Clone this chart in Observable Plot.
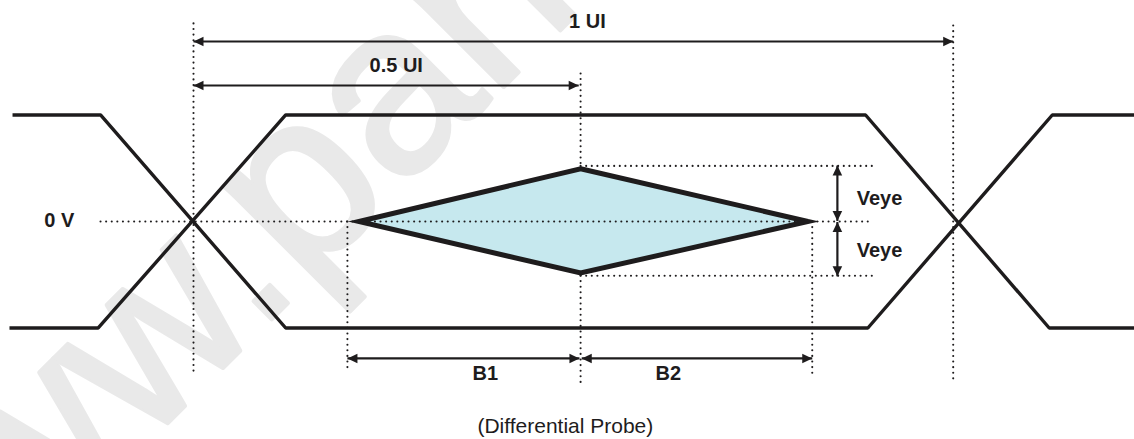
<!DOCTYPE html>
<html>
<head>
<meta charset="utf-8">
<script src="https://cdn.jsdelivr.net/npm/d3@7"></script>
<script src="https://cdn.jsdelivr.net/npm/@observablehq/plot@0.6"></script>
<style>
  html, body { margin: 0; padding: 0; background: #ffffff; overflow: hidden; }
  #chart svg { display: block; }
</style>
</head>
<body>
<div id="chart"></div>
<script>
// ---- data: time in UI (0 = first crossing), level in normalised volts ----
const waveA = [ // starts high, falls at crossing 0, rises at crossing 1
  {u: -0.2375, v: 1}, {u: -0.122, v: 1}, {u: 0.121, v: -1},
  {u: 0.885, v: -1}, {u: 1.127, v: 1}, {u: 1.235, v: 1}
];
const waveB = [ // starts low, rises at crossing 0, falls at crossing 1
  {u: -0.2415, v: -1}, {u: -0.125, v: -1}, {u: 0.121, v: 1},
  {u: 0.882, v: 1}, {u: 1.123, v: -1}, {u: 1.235, v: -1}
];
const eyeU = [0.217, 0.508, 0.8064];        // left tip, centre, right tip
const eyeTop = [0, 0.495, 0];
const eyeBottom = [0, -0.484, 0];
const dottedLines = [
  {u1: 0, v1: 1.86, u2: 0, v2: -1.43},          // crossing 0
  {u1: 0.997, v1: 1.84, u2: 0.997, v2: -1.48},  // crossing 1
  {u1: 0.508, v1: 1.39, u2: 0.508, v2: 0.517},  // 0.5 UI above eye
  {u1: 0.508, v1: -0.507, u2: 0.508, v2: -1.52},// 0.5 UI below eye
  {u1: 0.202, v1: 0, u2: 0.202, v2: -1.37},     // B1 left
  {u1: 0.812, v1: 0, u2: 0.812, v2: -1.42},     // B2 right
  {u1: -0.122, v1: 0, u2: 0.892, v2: 0},        // 0 V
  {u1: 0.508, v1: 0.522, u2: 0.892, v2: 0.522}, // +Veye
  {u1: 0.508, v1: -0.51, u2: 0.892, v2: -0.51}  // -Veye
];
const hArrows = [ // horizontal double arrows
  {u1: 0, u2: 0.997, v: 1.69},     // 1 UI
  {u1: 0, u2: 0.5055, v: 1.277},   // 0.5 UI
  {u1: 0.202, u2: 0.5065, v: -1.286}, // B1
  {u1: 0.5095, u2: 0.812, v: -1.286}  // B2
];
const vArrows = [ // vertical double arrows
  {u: 0.845, v1: 0.525, v2: 0.005},
  {u: 0.845, v1: -0.005, v2: -0.515}
];
const labels = [
  {text: "1 UI", u: 0.517, v: 1.878},
  {text: "0.5 UI", u: 0.266, v: 1.46},
  {text: "0 V", u: -0.176, v: 0.01},
  {text: "Veye", u: 0.9003, v: 0.216},
  {text: "Veye", u: 0.9003, v: -0.272},
  {text: "B1", u: 0.383, v: -1.427},
  {text: "B2", u: 0.623, v: -1.427}
];
const caption = [{text: "(Differential Probe)", u: 0.488, v: -1.925}];
const watermark = [{text: "www.panelook.com", u: -0.388, v: -4.428}];

// ---- derived tables ----
const eye = eyeU.map((u, i) => ({u, top: eyeTop[i], bottom: eyeBottom[i]}));
const eyeOutline = [
  {u: eyeU[1], v: eyeTop[1]}, {u: eyeU[2], v: eyeTop[2]},
  {u: eyeU[1], v: eyeBottom[1]}, {u: eyeU[0], v: eyeBottom[0]},
  {u: eyeU[1], v: eyeTop[1]}, {u: eyeU[2], v: eyeTop[2]}
];
const headsLeft = hArrows.map(d => ({u: d.u1, v: d.v}));
const headsRight = hArrows.map(d => ({u: d.u2, v: d.v}));
const headsUp = vArrows.map(d => ({u: d.u, v: d.v1}));
const headsDown = vArrows.map(d => ({u: d.u, v: d.v2}));

// arrowhead symbols, tip at the origin
const L = 10, H = 4.8;
const triLeft = {draw(c) { c.moveTo(0, 0); c.lineTo(L, -H); c.lineTo(L, H); c.closePath(); }};
const triRight = {draw(c) { c.moveTo(0, 0); c.lineTo(-L, -H); c.lineTo(-L, H); c.closePath(); }};
const triUp = {draw(c) { c.moveTo(0, 0); c.lineTo(-H, L); c.lineTo(H, L); c.closePath(); }};
const triDown = {draw(c) { c.moveTo(0, 0); c.lineTo(-H, -L); c.lineTo(H, -L); c.closePath(); }};

const ink = "#1e1c1d";
const font = "'Liberation Sans', Arial, Helvetica, sans-serif";
const dotted = {stroke: ink, strokeWidth: 2.1, strokeDasharray: "0,5.6", strokeLinecap: "round"};

const chart = Plot.plot({
  width: 1134,
  height: 439,
  margin: 0,
  x: {domain: [-193 / 762, (1134 - 193) / 762], range: [0, 1134], axis: null},
  y: {domain: [-2.047, 2.075], range: [439, 0], axis: null},
  style: {background: "#ffffff", fontFamily: font},
  marks: [
    Plot.text(watermark, {x: "u", y: "v", text: "text", rotate: -45, textAnchor: "start",
      lineAnchor: "bottom", fontSize: 240, fontWeight: "normal", fill: "#e9e9e9",
      stroke: "#e9e9e9", strokeWidth: 4, fontFamily: font}),
    Plot.areaY(eye, {x: "u", y1: "top", y2: "bottom", fill: "#c6e8ee", curve: "linear"}),
    Plot.link(dottedLines, {x1: "u1", y1: "v1", x2: "u2", y2: "v2", ...dotted}),
    Plot.line(eyeOutline, {x: "u", y: "v", stroke: ink, strokeWidth: 5,
      strokeLinejoin: "miter", strokeMiterlimit: 10, strokeLinecap: "butt", curve: "linear"}),
    Plot.line(waveA, {x: "u", y: "v", stroke: ink, strokeWidth: 3.4,
      strokeLinejoin: "miter", strokeLinecap: "butt", curve: "linear"}),
    Plot.line(waveB, {x: "u", y: "v", stroke: ink, strokeWidth: 3.4,
      strokeLinejoin: "miter", strokeLinecap: "butt", curve: "linear"}),
    Plot.link(hArrows, {x1: "u1", x2: "u2", y1: "v", y2: "v", stroke: ink, strokeWidth: 2.2, strokeLinecap: "butt"}),
    Plot.link(vArrows, {x1: "u", x2: "u", y1: "v1", y2: "v2", stroke: ink, strokeWidth: 2.2, strokeLinecap: "butt"}),
    Plot.dot(headsLeft, {x: "u", y: "v", symbol: triLeft, fill: ink, stroke: null, r: 5}),
    Plot.dot(headsRight, {x: "u", y: "v", symbol: triRight, fill: ink, stroke: null, r: 5}),
    Plot.dot(headsUp, {x: "u", y: "v", symbol: triUp, fill: ink, stroke: null, r: 5}),
    Plot.dot(headsDown, {x: "u", y: "v", symbol: triDown, fill: ink, stroke: null, r: 5}),
    Plot.text(labels, {x: "u", y: "v", text: "text", fontSize: 20, fontWeight: "bold",
      fill: ink, fontFamily: font}),
    Plot.text(caption, {x: "u", y: "v", text: "text", fontSize: 21, fontWeight: "normal",
      fill: ink, fontFamily: font})
  ]
});
document.getElementById("chart").appendChild(chart);
</script>
</body>
</html>
